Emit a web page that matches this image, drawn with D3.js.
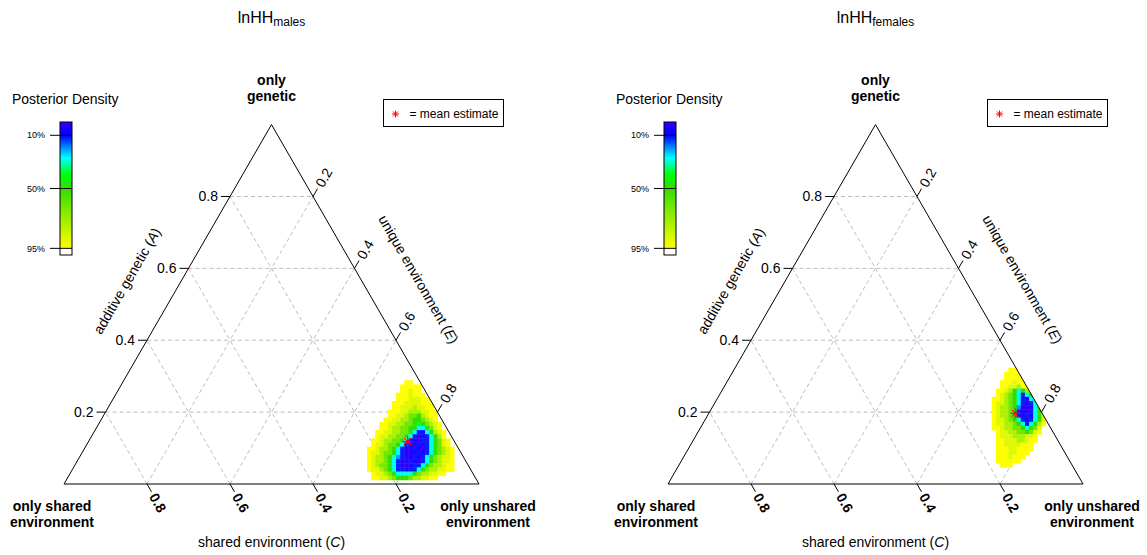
<!DOCTYPE html>
<html>
<head>
<meta charset="utf-8">
<script src="https://cdn.jsdelivr.net/npm/d3@7"></script>
<style>
body { margin: 0; background: #fff; }
svg { font-family: "Liberation Sans", Arial, sans-serif; }
</style>
</head>
<body>
<svg id="chart" width="1147" height="555"></svg>
<script>
var panels = ["males", "females"];
var ticks = [0.2, 0.4, 0.6, 0.8];

// mean estimate, [A, C, E]
var meanMales = [0.118, 0.113, 0.769];
var meanFemales = [0.197, 0.065, 0.738];

// colour bar: HPD level (%) -> colour
var barPct = [0, 10, 20, 27, 40, 50, 95];
var barColors = ["#3300ff", "#0000ff", "#0099ff", "#00ffff", "#00ff00", "#33dd00", "#ffff00"];
var barLabels = [10, 50, 95];

// level digit in the density rows -> HPD level (%)
var levelPct = [2, 12, 20, 28, 38, 50, 64, 77, 88, 95];

// posterior density bins, 0.01 wide in the triangle's x/y frame: [row, first column, levels]
var densityMales = [
    [24, 82, "99"],
    [23, 81, "99999"],
    [22, 81, "99899"],
    [21, 80, "9998999"],
    [20, 80, "99988899"],
    [19, 79, "9998888999"],
    [18, 79, "9988878899"],
    [17, 78, "999887778899"],
    [16, 78, "998876657899"],
    [15, 77, "9988776556789"],
    [14, 76, "998877665456789"],
    [13, 76, "998776655335689"],
    [12, 75, "99887766531135789"],
    [11, 75, "98877665310013579"],
    [10, 74, "9987766531001135689"],
    [9, 74, "9887665310010135689"],
    [8, 73, "998776531001001356789"],
    [7, 73, "988766531000101356789"],
    [6, 73, "987765321001013567889"],
    [5, 73, "987765310010013567889"],
    [4, 73, "987665310001135677899"],
    [3, 73, "988765311011356778899"],
    [2, 74, "988765333356778899"],
    [1, 74, "9988765556778899"]
];

var densityFemales = [
    [27, 82, "99"],
    [26, 81, "9999"],
    [25, 81, "99999"],
    [24, 80, "999899"],
    [23, 80, "9988799"],
    [22, 79, "998753579"],
    [21, 79, "9876531358"],
    [20, 78, "99876531035"],
    [19, 78, "988765310136"],
    [18, 78, "987765200035"],
    [17, 78, "9877641001357"],
    [16, 78, "9877651010358"],
    [15, 78, "9887653101358"],
    [14, 78, "9887765313579"],
    [13, 78, "998776653568"],
    [12, 79, "98877665689"],
    [11, 79, "9888777889"],
    [10, 79, "9988877899"],
    [9, 79, "998888999"],
    [8, 79, "999889999"],
    [7, 79, "99988999"],
    [6, 79, "9998999"],
    [5, 79, "999999"],
    [4, 80, "999"]
];

var svg = d3.select("#chart");
var S3 = Math.sqrt(3) / 2;
var side = 415, baseY = 484, bin = 0.01;
var panelLeft = [64, 668];

var color = d3.scaleLinear().domain(barPct).range(barColors).interpolate(d3.interpolateRgb);

function star(g, cx, cy, r) {
    var d = r * 0.72;
    var segs = [[-r, 0, r, 0], [0, -r, 0, r], [-d, -d, d, d], [-d, d, d, -d]];
    g.selectAll(null).data(segs).enter().append("line")
        .attr("x1", function (s) { return cx + s[0]; })
        .attr("y1", function (s) { return cy + s[1]; })
        .attr("x2", function (s) { return cx + s[2]; })
        .attr("y2", function (s) { return cy + s[3]; })
        .attr("stroke", "#ff0000").attr("stroke-width", 1);
}

function drawPanel(i, density, mean) {
    var g = svg.append("g");
    var x = d3.scaleLinear().domain([0, 1]).range([panelLeft[i], panelLeft[i] + side]);
    var y = d3.scaleLinear().domain([0, S3]).range([baseY, baseY - side * S3]);

    function pt(a, c, e) { return [x(e + a / 2), y(a * S3)]; }

    var tri = [pt(1, 0, 0), pt(0, 1, 0), pt(0, 0, 1)];

    svg.append("clipPath").attr("id", "clip" + i)
        .append("polygon").attr("points", tri.map(function (p) { return p.join(","); }).join(" "));

    // grid
    var grid = [];
    ticks.forEach(function (t) {
        grid.push([pt(t, 1 - t, 0), pt(t, 0, 1 - t)]);
        grid.push([pt(0, t, 1 - t), pt(1 - t, t, 0)]);
        grid.push([pt(0, 1 - t, t), pt(1 - t, 0, t)]);
    });
    g.selectAll(".grid").data(grid).enter().append("line")
        .attr("class", "grid")
        .attr("x1", function (d) { return d[0][0]; })
        .attr("y1", function (d) { return d[0][1]; })
        .attr("x2", function (d) { return d[1][0]; })
        .attr("y2", function (d) { return d[1][1]; })
        .attr("stroke", "#bdbdbd").attr("stroke-width", 1).attr("stroke-dasharray", "4,3");

    // density cells
    var cells = [];
    density.forEach(function (row) {
        row[2].split("").forEach(function (ch, k) {
            cells.push({ bx: (row[1] + k) * bin, by: row[0] * bin, lev: +ch });
        });
    });
    var cw = x(bin) - x(0), ch = y(0) - y(bin);
    g.append("g").attr("clip-path", "url(#clip" + i + ")")
        .selectAll("rect").data(cells).enter().append("rect")
        .attr("x", function (d) { return x(d.bx); })
        .attr("y", function (d) { return y(d.by + bin); })
        .attr("width", cw + 0.4)
        .attr("height", ch + 0.4)
        .attr("fill", function (d) { return color(levelPct[d.lev]); });

    // triangle
    g.append("polygon")
        .attr("points", tri.map(function (p) { return p.join(","); }).join(" "))
        .attr("fill", "none").attr("stroke", "#000").attr("stroke-width", 1);

    // ticks and labels
    var tl = 9, lo = 12;
    ticks.forEach(function (t) {
        var p = pt(t, 1 - t, 0);
        g.append("line").attr("x1", p[0]).attr("y1", p[1]).attr("x2", p[0] - tl).attr("y2", p[1]).attr("stroke", "#000");
        g.append("text").attr("x", p[0] - lo).attr("y", p[1]).attr("dy", "0.35em")
            .attr("text-anchor", "end").attr("font-size", 14).text(t.toFixed(1));

        var q = pt(1 - t, 0, t), u = [0.5, -S3];
        g.append("line").attr("x1", q[0]).attr("y1", q[1]).attr("x2", q[0] + tl * u[0]).attr("y2", q[1] + tl * u[1]).attr("stroke", "#000");
        g.append("text").attr("transform", "translate(" + (q[0] + lo * u[0]) + "," + (q[1] + lo * u[1]) + ") rotate(-60)")
            .attr("dy", "0.35em").attr("font-size", 14).text(t.toFixed(1));

        var b = pt(0, t, 1 - t), v = [0.5, S3];
        g.append("line").attr("x1", b[0]).attr("y1", b[1]).attr("x2", b[0] + tl * v[0]).attr("y2", b[1] + tl * v[1]).attr("stroke", "#000");
        g.append("text").attr("transform", "translate(" + (b[0] + lo * v[0]) + "," + (b[1] + lo * v[1]) + ") rotate(60)")
            .attr("dy", "0.35em").attr("font-size", 14).attr("font-weight", "bold").text(t.toFixed(1));
    });

    // axis titles
    var midL = pt(0.5, 0.5, 0), midR = pt(0.5, 0, 0.5);
    var tA = g.append("text")
        .attr("transform", "translate(" + (midL[0] - 47 * S3) + "," + (midL[1] - 47 * 0.5) + ") rotate(-60)")
        .attr("text-anchor", "middle").attr("dy", "0.35em").attr("font-size", 14);
    tA.append("tspan").text("additive genetic (");
    tA.append("tspan").attr("font-style", "italic").text("A");
    tA.append("tspan").text(")");

    var tE = g.append("text")
        .attr("transform", "translate(" + (midR[0] + 50 * S3) + "," + (midR[1] - 50 * 0.5) + ") rotate(60)")
        .attr("text-anchor", "middle").attr("dy", "0.35em").attr("font-size", 14);
    tE.append("tspan").text("unique environment (");
    tE.append("tspan").attr("font-style", "italic").text("E");
    tE.append("tspan").text(")");

    var tC = g.append("text").attr("x", x(0.5)).attr("y", 547)
        .attr("text-anchor", "middle").attr("font-size", 14);
    tC.append("tspan").text("shared environment (");
    tC.append("tspan").attr("font-style", "italic").text("C");
    tC.append("tspan").text(")");

    // vertex labels
    function vlabel(cx, lines, y0) {
        var t = g.append("text").attr("text-anchor", "middle").attr("font-size", 14).attr("font-weight", "bold");
        lines.forEach(function (s, k) {
            t.append("tspan").attr("x", cx).attr("y", y0 + k * 16).text(s);
        });
    }
    vlabel(tri[0][0], ["only", "genetic"], 85);
    vlabel(tri[1][0] - 12, ["only shared", "environment"], 511);
    vlabel(tri[2][0] + 9, ["only unshared", "environment"], 511);

    // title
    var title = g.append("text").attr("x", x(0.5)).attr("y", 23)
        .attr("text-anchor", "middle").attr("font-size", 16);
    title.append("tspan").text("lnHH");
    title.append("tspan").attr("font-size", 12).attr("dy", 3).text(panels[i]);

    // mean estimate
    var m = pt(mean[0], mean[1], mean[2]);
    star(g, m[0], m[1], 5);

    // legend box
    var lx = x(0.5) + 112;
    g.append("rect").attr("x", lx).attr("y", 99.5).attr("width", 120).attr("height", 27)
        .attr("fill", "#fff").attr("stroke", "#000").attr("stroke-width", 1);
    star(g, lx + 12, 114, 3.5);
    g.append("text").attr("x", lx + 26).attr("y", 118).attr("font-size", 12).text("= mean estimate");

    // colour bar
    var bx0 = panelLeft[i] - 4, bw = 12;
    var py = d3.scaleLinear().domain([0, 100]).range([122, 255]);
    g.append("text").attr("x", panelLeft[i] - 52).attr("y", 104).attr("font-size", 14).text("Posterior Density");
    var gid = "grad" + i;
    var grad = svg.append("defs").append("linearGradient").attr("id", gid)
        .attr("x1", 0).attr("x2", 0).attr("y1", 0).attr("y2", 1);
    barPct.forEach(function (p, k) {
        grad.append("stop").attr("offset", p / 95).attr("stop-color", barColors[k]);
    });
    g.append("rect").attr("x", bx0).attr("y", py(0)).attr("width", bw).attr("height", py(95) - py(0))
        .attr("fill", "url(#" + gid + ")");
    g.append("rect").attr("x", bx0).attr("y", py(0)).attr("width", bw).attr("height", py(100) - py(0))
        .attr("fill", "none").attr("stroke", "#000").attr("stroke-width", 1);
    barLabels.forEach(function (p) {
        g.append("line").attr("x1", bx0 - 10).attr("x2", bx0 + bw).attr("y1", py(p)).attr("y2", py(p))
            .attr("stroke", "#000").attr("stroke-width", 1);
        g.append("text").attr("x", bx0 - 15).attr("y", py(p)).attr("dy", "0.35em")
            .attr("text-anchor", "end").attr("font-size", 9).text(p + "%");
    });
}

drawPanel(0, densityMales, meanMales);
drawPanel(1, densityFemales, meanFemales);
</script>
</body>
</html>
